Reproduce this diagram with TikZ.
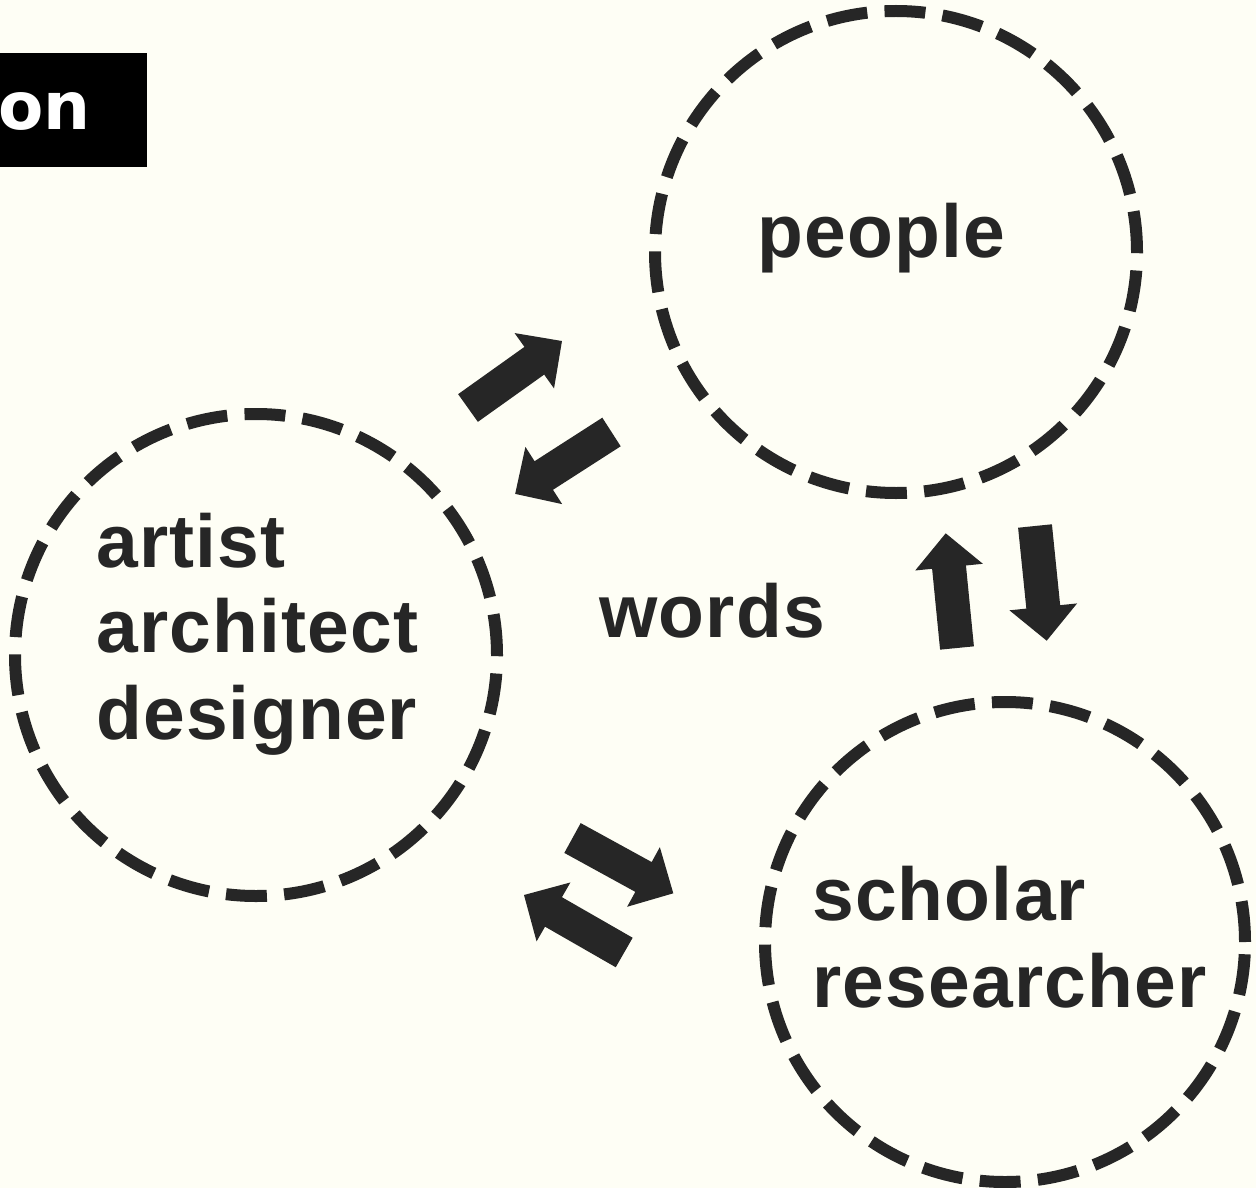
\documentclass[tikz,border=0pt]{standalone}
\usepackage{fontspec}
\setmainfont{Liberation Sans}
\newfontfamily\lblfont[LetterSpace=1.6]{Liberation Sans}
\newfontfamily\boxfont{DejaVu Sans}
\usetikzlibrary{calc}
\definecolor{ink}{HTML}{262626}
\definecolor{paper}{HTML}{FEFEF5}
\newcommand\blockarrow[2]{%
  \pgfmathanglebetweenpoints{\pgfpointanchor{#1}{center}}{\pgfpointanchor{#2}{center}}%
  \let\barang\pgfmathresult
  \pgfpointdiff{\pgfpointanchor{#1}{center}}{\pgfpointanchor{#2}{center}}%
  \pgfgetlastxy{\barx}{\bary}%
  \pgfmathveclen{\barx}{\bary}%
  \let\barlen\pgfmathresult
  \fill[ink, shift={(#1)}, rotate=\barang] (0,-17) -- (\barlen-34,-17) -- (\barlen-34,-34) -- (\barlen,0) -- (\barlen-34,34) -- (\barlen-34,17) -- (0,17) -- cycle;
}
\begin{document}
\begin{tikzpicture}[x=1pt,y=1pt,
  ring/.style={circle, draw=ink, line width=12pt, inner sep=0pt, dash pattern=on 40.9pt off 17.3pt},
  label text/.style={anchor=base west, inner sep=0pt, text=ink, font=\lblfont\fontsize{75}{86}\selectfont\bfseries},
]
\fill[paper] (0,0) rectangle (1256,-1188);
\useasboundingbox (0,0) rectangle (1256,-1188);

% title box
\fill[black] (-10,-53) rectangle (147,-167);
\node[anchor=base west, inner sep=0pt, text=white, font=\boxfont\fontsize{66}{70}\selectfont\bfseries] (title) at (-2,-130) {on};

% circles
\node[ring, minimum size=482pt] (people) at (896,-252) {};
\node[ring, minimum size=482pt] (artist) at (256,-655) {};
\node[ring, minimum size=480pt] (scholar) at (1005,-942) {};

% labels
\node[label text] (ppl) at (757,-257) {people};
\node[label text] (art1) at (96,-567) {artist};
\node[label text] (art2) at (96,-652) {architect};
\node[label text] (art3) at (96,-739) {designer};
\node[label text] (words) at (599,-637) {words};
\node[label text] (sch1) at (812,-920) {scholar};
\node[label text] (sch2) at (812,-1007) {researcher};

% arrow endpoints
\coordinate (a1t) at (468,-408);   \coordinate (a1h) at (562,-341);
\coordinate (a2t) at (611.5,-432); \coordinate (a2h) at (515,-494);
\coordinate (a3t) at (957,-648);   \coordinate (a3h) at (945.7,-533.3);
\coordinate (a4t) at (1035,-526);  \coordinate (a4h) at (1046.7,-640.7);
\coordinate (a5t) at (572.5,-838); \coordinate (a5h) at (673.3,-893.3);
\coordinate (a6t) at (624.2,-952.5); \coordinate (a6h) at (524,-895);

\blockarrow{a1t}{a1h}
\blockarrow{a2t}{a2h}
\blockarrow{a3t}{a3h}
\blockarrow{a4t}{a4h}
\blockarrow{a5t}{a5h}
\blockarrow{a6t}{a6h}
\end{tikzpicture}
\end{document}
